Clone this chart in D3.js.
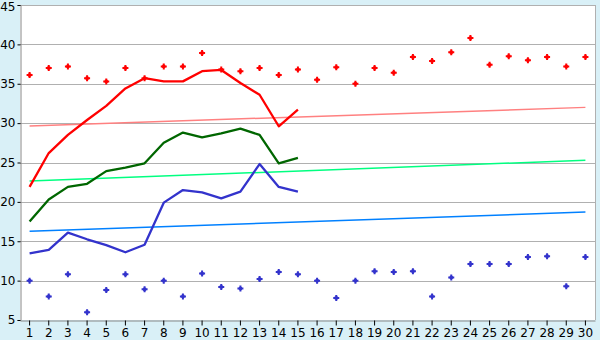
<!DOCTYPE html>
<html>
<head>
<meta charset="utf-8">
<script src="https://cdn.jsdelivr.net/npm/d3@7"></script>
<style>
  html, body { margin: 0; padding: 0; background: #d9f0f7; }
  #chart { width: 600px; height: 340px; }
  text { font-family: "DejaVu Sans", Verdana, sans-serif; font-size: 12px; fill: #000; }
</style>
</head>
<body>
<div id="chart"></div>
<script>
// ── Daily values chart: scatter of highs/lows, running lines, trend lines ─────

const DAYS = d3.range(1, 31);
const Y_TICKS = [5, 10, 15, 20, 25, 30, 35, 40, 45];

// scatter points (one per day)
const HIGH_POINTS = [36.1, 37.0, 37.2, 35.7, 35.3, 37.0, 35.7, 37.2, 37.2, 38.9,
                     36.8, 36.6, 37.0, 36.1, 36.8, 35.5, 37.1, 35.0, 37.0, 36.4,
                     38.4, 37.9, 39.0, 40.8, 37.4, 38.5, 38.0, 38.4, 37.2, 38.4];
const LOW_POINTS  = [10.0, 8.0, 10.8, 6.0, 8.8, 10.8, 8.9, 10.0, 8.0, 10.9,
                     9.2, 9.0, 10.2, 11.1, 10.8, 10.0, 7.8, 10.0, 11.2, 11.1,
                     11.2, 8.0, 10.4, 12.1, 12.1, 12.1, 13.0, 13.1, 9.3, 13.0];

// lines, days 1–15 only
const RED_LINE   = [21.9, 26.2, 28.5, 30.4, 32.2, 34.4, 35.7, 35.3, 35.3, 36.6,
                    36.75, 35.1, 33.6, 29.6, 31.7];
const GREEN_LINE = [17.5, 20.3, 21.9, 22.3, 23.9, 24.35, 24.9, 27.5, 28.8, 28.2,
                    28.7, 29.3, 28.5, 24.9, 25.6];
const BLUE_LINE  = [13.45, 13.9, 16.1, 15.25, 14.5, 13.6, 14.55, 19.9, 21.5, 21.2,
                    20.45, 21.3, 24.8, 21.9, 21.3];

// trend lines: value at day 1 and at day 30
const TREND_DAYS  = [1, 30];
const TREND_RED   = [29.65, 32.0];
const TREND_GREEN = [22.65, 25.28];
const TREND_BLUE  = [16.26, 18.71];

(function () {
  "use strict";

  const W = 600, H = 340;
  const L = 20, R = 595, T = 5, B = 320;

  const svg = d3.select("#chart").append("svg")
    .attr("width", W).attr("height", H);

  const x = d3.scaleBand().domain(DAYS).range([L, R]);
  const xc = function (d) { return x(d) + x.bandwidth() / 2; };
  const y = d3.scaleLinear().domain([5, 45]).range([B, T]);

  // ── Plot area ─────────────────────────────────────────────────────────────
  svg.append("rect")
    .attr("x", L).attr("y", T)
    .attr("width", R - L).attr("height", B - T)
    .attr("fill", "#fff");

  // Grid lines (45 doubles as the top border)
  svg.append("g").selectAll("line")
    .data(Y_TICKS.slice(1))
    .join("line")
    .attr("x1", L).attr("x2", R)
    .attr("y1", function (d) { return Math.round(y(d)) + 0.5; })
    .attr("y2", function (d) { return Math.round(y(d)) + 0.5; })
    .attr("stroke", "#b0b0b0")
    .attr("stroke-width", 1);

  // Right border
  svg.append("line")
    .attr("x1", R + 0.5).attr("x2", R + 0.5)
    .attr("y1", T).attr("y2", B)
    .attr("stroke", "#b0b0b0");

  // ── Axes ──────────────────────────────────────────────────────────────────
  const yAxis = svg.append("g")
    .attr("transform", `translate(${L + 0.5},0)`)
    .call(d3.axisLeft(y).tickValues(Y_TICKS).tickSize(3).tickPadding(2));
  yAxis.select(".domain").attr("stroke", "#888");
  yAxis.selectAll(".tick line").attr("stroke", "#000");
  yAxis.selectAll("text").attr("font-size", 12).attr("font-family", null);
  // keep the top label inside the picture
  yAxis.selectAll(".tick text").filter(function (d) { return d === 45; })
    .attr("dy", "0.45em");

  const xAxis = svg.append("g")
    .attr("transform", `translate(0,${B + 0.5})`)
    .call(d3.axisBottom(x).tickSize(5).tickSizeOuter(0).tickPadding(3));
  xAxis.select(".domain").attr("stroke", "#888");
  xAxis.selectAll(".tick line").attr("stroke", "#000");
  xAxis.selectAll("text").attr("font-size", 12).attr("font-family", null);

  // ── Trend lines ───────────────────────────────────────────────────────────
  const trendLine = d3.line()
    .x(function (d, i) { return xc(TREND_DAYS[i]); })
    .y(function (d) { return y(d); });

  [[TREND_RED, "#ff8080"], [TREND_GREEN, "#00ff80"], [TREND_BLUE, "#0080ff"]]
    .forEach(function (t) {
      svg.append("path")
        .attr("d", trendLine(t[0]))
        .attr("fill", "none")
        .attr("stroke", t[1])
        .attr("stroke-width", 1.5);
    });

  // ── Data lines ────────────────────────────────────────────────────────────
  const dataLine = d3.line()
    .x(function (d, i) { return xc(DAYS[i]); })
    .y(function (d) { return y(d); });

  [[RED_LINE, "#ff0000"], [GREEN_LINE, "#006600"], [BLUE_LINE, "#3333cc"]]
    .forEach(function (s) {
      svg.append("path")
        .attr("d", dataLine(s[0]))
        .attr("fill", "none")
        .attr("stroke", s[1])
        .attr("stroke-width", 2.3)
        .attr("stroke-linejoin", "round");
    });

  // ── Scatter markers ───────────────────────────────────────────────────────
  // small plus with a filled centre, like the original bitmap markers
  const cross = d3.symbol().type(d3.symbolCross).size(20);
  const dot = d3.symbol().type(d3.symbolSquare).size(10);

  [[HIGH_POINTS, "#ff0000"], [LOW_POINTS, "#3333cc"]].forEach(function (s) {
    const g = svg.append("g").selectAll("g")
      .data(s[0])
      .join("g")
      .attr("transform", function (d, i) { return `translate(${xc(DAYS[i])},${y(d)})`; })
      .attr("fill", s[1]);
    g.append("path").attr("d", cross);
    g.append("path").attr("d", dot);
  });

})();
</script>
</body>
</html>
